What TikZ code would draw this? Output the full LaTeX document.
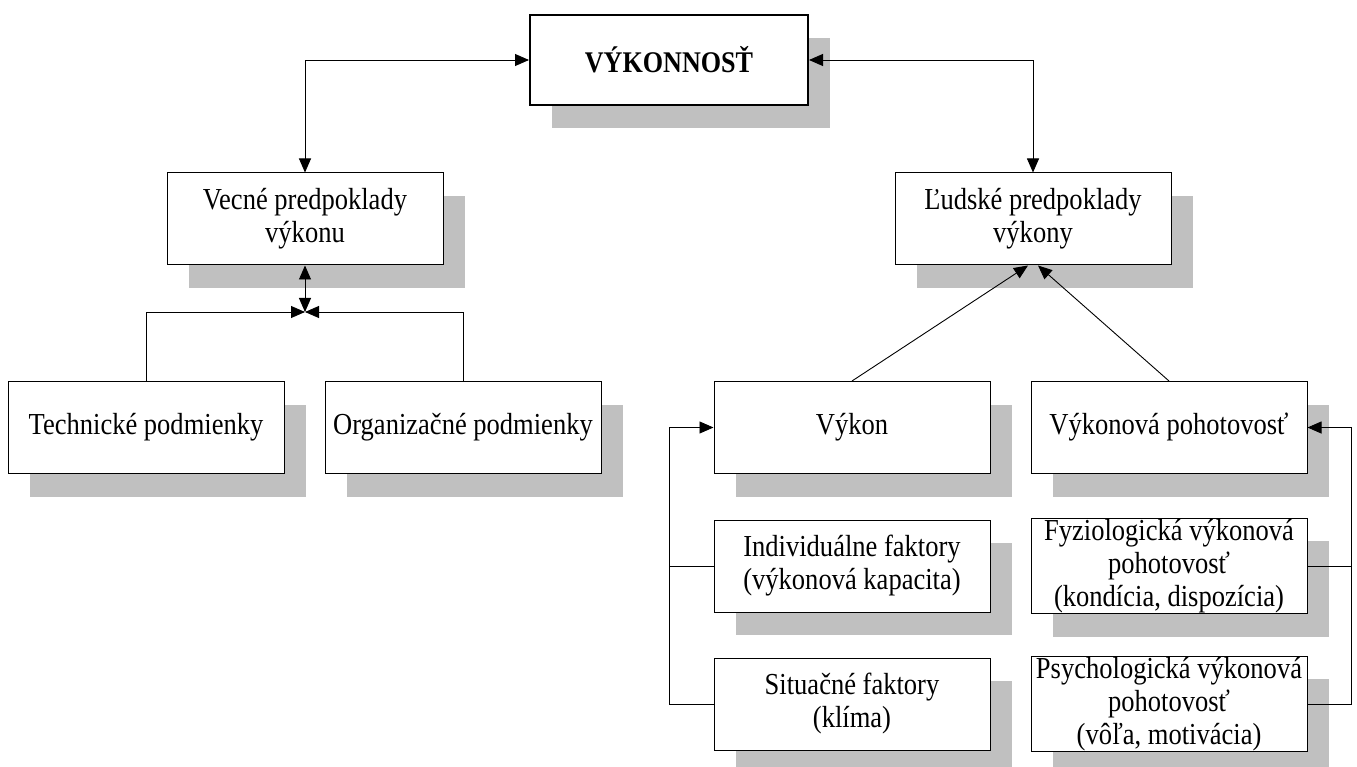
\documentclass[tikz,border=0pt]{standalone}
\usepackage{fontspec}
\setmainfont[FakeStretch=0.87]{Liberation Serif}
\usetikzlibrary{arrows.meta,shadows}
\definecolor{shade}{RGB}{192,192,192}
\tikzset{
  box/.style={draw=black, line width=1pt, fill=white, minimum width=276pt, minimum height=92pt,
    inner sep=1pt, align=center, font=\fontsize{30.5}{33}\selectfont,
    general shadow={fill=shade, shadow xshift=22pt, shadow yshift=-23pt}},
  topbox/.style={box, line width=2pt, minimum width=278pt, minimum height=90pt, font=\fontsize{30}{33}\selectfont\bfseries},
  conn/.style={line width=0.9pt, draw=black},
  arr/.style={conn, -{Triangle[length=14pt,width=12pt]}},
  darr/.style={conn, {Triangle[length=14pt,width=12pt]}-{Triangle[length=14pt,width=12pt]}},
}
\begin{document}
\begin{tikzpicture}[x=1pt,y=-1pt]
\useasboundingbox (0,0) rectangle (1357,767);
\node[topbox] (top) at (669,60) {VÝKONNOSŤ};
\node[box] (vec) at (305,219) {Vecné predpoklady\\výkonu};
\node[box] (lud) at (1033,219) {Ľudské predpoklady\\výkony};
\node[box] (tech) at (146,427.5) {Technické podmienky};
\node[box] (org) at (463,427.5) {Organizačné podmienky};
\node[box] (vykon) at (852,427.5) {Výkon};
\node[box] (poh) at (1169,427.5) {Výkonová pohotovosť};
\node[box] (ind) at (852,566) {Individuálne faktory\\(výkonová kapacita)};
\node[box] (fyz) at (1169,566) {Fyziologická výkonová\\pohotovosť\\(kondícia, dispozícia)};
\node[box] (sit) at (852,704) {Situačné faktory\\(klíma)};
\node[box] (psy) at (1169,704) {Psychologická výkonová\\pohotovosť\\(vôľa, motivácia)};
\coordinate (j) at (305,312);
\coordinate (lb) at (669,0);
\coordinate (rb) at (1351,0);
\draw[darr] (top.west) -| (vec.north);
\draw[darr] (top.east) -| (lud.north);
\draw[darr] (vec.south) -- (j);
\draw[arr] (tech.north) |- (j);
\draw[arr] (org.north) |- (j);
\draw[arr] (vykon.north) -- ([xshift=-5pt]lud.south);
\draw[arr] (poh.north) -- ([xshift=5pt]lud.south);
\draw[arr] (sit.west) -- (sit.west -| lb) |- (vykon.west);
\draw[conn] (ind.west) -- (ind.west -| lb);
\draw[arr] (psy.east) -- (psy.east -| rb) |- (poh.east);
\draw[conn] (fyz.east) -- (fyz.east -| rb);
\end{tikzpicture}
\end{document}
